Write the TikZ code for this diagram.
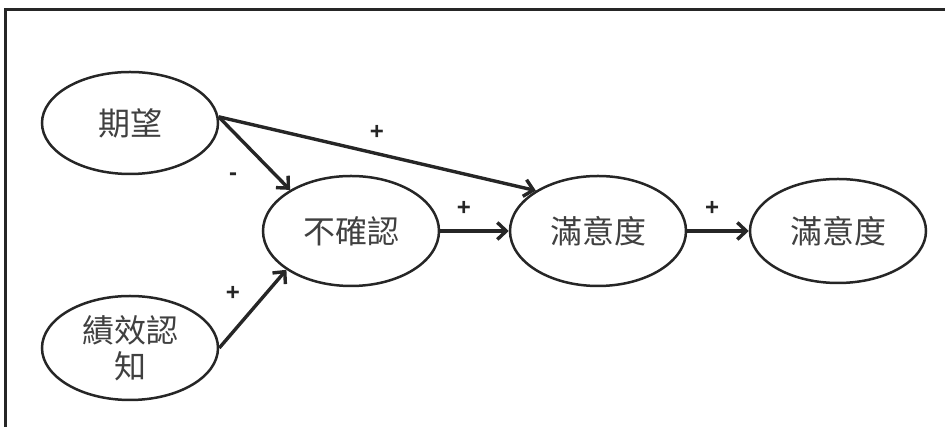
\documentclass[tikz,border=0pt]{standalone}
\usepackage{fontspec}
\newfontfamily\cjk{Noto Sans CJK TC}
\newfontfamily\lab{Liberation Sans}
\usetikzlibrary{shapes.geometric,arrows.meta}
\begin{document}
\begin{tikzpicture}[x=1pt,y=1pt,
  oval/.style={ellipse, draw=black!85, line width=2.5pt, minimum width=176pt, minimum height=102pt, inner sep=0pt,
    font=\cjk\fontsize{32}{36}\selectfont, text=black!75, align=center},
  link/.style={draw=black!85, line width=3.4pt, -{Straight Barb[length=9pt,width=17pt,line width=3.4pt]}},
  sign/.style={font=\lab\bfseries\fontsize{24}{26}\selectfont, inner sep=0pt, text=black!85}]
\useasboundingbox (0,0) rectangle (945,427);
\draw[line width=3pt, black!85] (945,417) -- (5,417) -- (5,0);
\node[oval] (qw) at (130,304) {期望};
\node[oval, minimum height=104pt] (jx) at (130,79) {績效認\\知};
\node[oval, minimum height=110pt] (bq) at (351,196) {不確認};
\node[oval, minimum height=110pt] (m1) at (598,196) {滿意度};
\node[oval, minimum height=104pt] (m2) at (838,196) {滿意度};
\draw[link] (qw.4) -- (bq.146);
\draw[link] (qw.4) -- (m1.147);
\draw[link] (jx.east) -- (bq.211);
\draw[link] (bq.east) -- (m1.west);
\draw[link] (m1.east) -- (m2.west);
\node[sign] (s1) at (233,250) {-};
\node[sign] (s2) at (377,295) {+};
\node[sign] (s3) at (233,134) {+};
\node[sign] (s4) at (464,219) {+};
\node[sign] (s5) at (712,219) {+};
\end{tikzpicture}
\end{document}
